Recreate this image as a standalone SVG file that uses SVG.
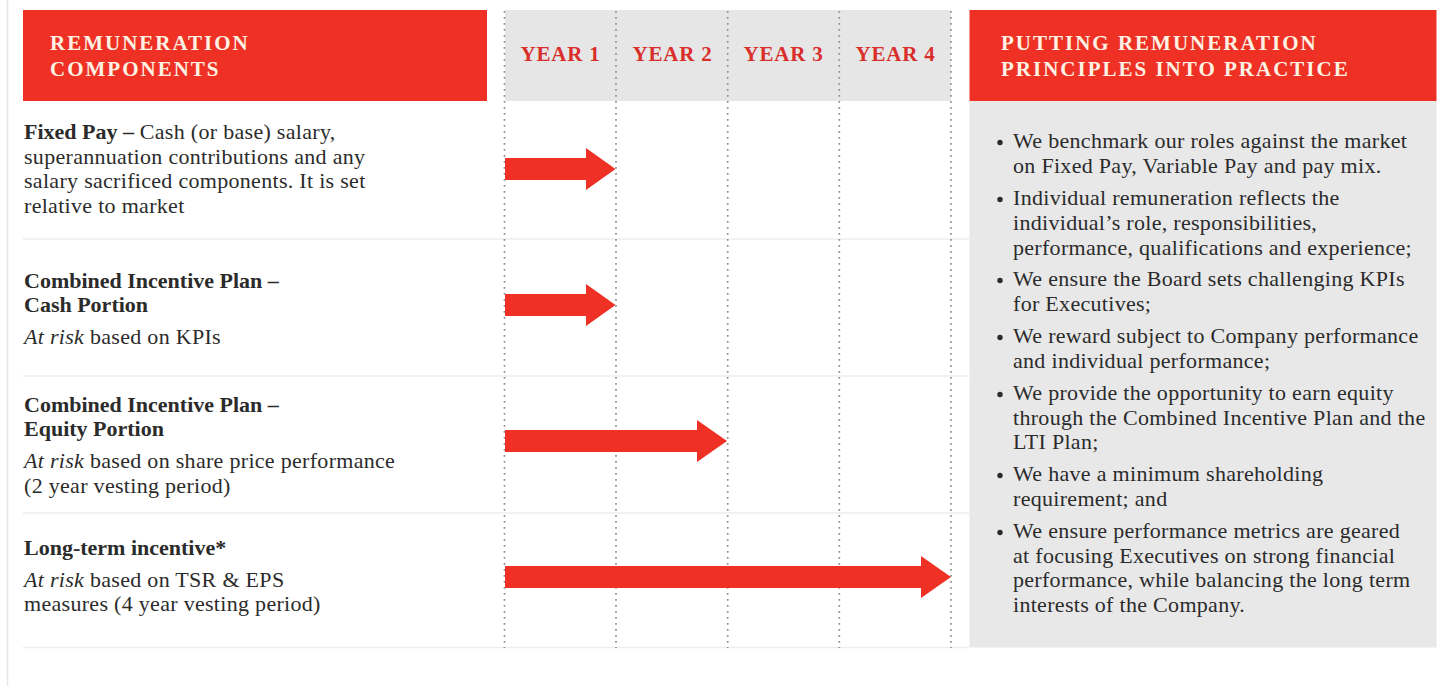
<svg xmlns="http://www.w3.org/2000/svg" width="1442" height="686" viewBox="0 0 1442 686">
  <style>
    .hdr { fill: #ee3124; }
    .hdr-t { font-family: "Liberation Serif", serif; font-weight: bold; font-size: 21px; fill: #fdf2e4; letter-spacing: 2px; }
    .yr-bg { fill: #e6e6e7; }
    .yr-t { font-family: "Liberation Serif", serif; font-weight: bold; font-size: 21px; fill: #d92e2a; letter-spacing: 0.8px; text-anchor: middle; }
    .grid { stroke: #8f8f8f; stroke-width: 1.7; stroke-dasharray: 1.7 4.3; fill: none; }
    .sep { stroke: #eeeeee; stroke-width: 1.5; }
    .body { font-family: "Liberation Serif", serif; font-size: 22px; fill: #2b2b2b; letter-spacing: 0.3px; }
    .b { font-weight: bold; letter-spacing: 0; }
    .i { font-style: italic; }
    .panel { fill: #e8e8e9; }
    .arrow { fill: #ee3124; }
    .dot { fill: #2b2b2b; }
  </style>

  <!-- page edge -->
  <line x1="7.5" y1="0" x2="7.5" y2="686" stroke="#e6e6e6" stroke-width="1.5"/>

  <!-- left column heading -->
  <g id="components-header">
    <rect class="hdr" x="23" y="10" width="464" height="91"/>
    <text class="hdr-t" x="50" y="50">REMUNERATION</text>
    <text class="hdr-t" x="50" y="76">COMPONENTS</text>
  </g>

  <!-- year timeline heading -->
  <g id="years-header">
    <rect class="yr-bg" x="505" y="10" width="446" height="91"/>
    <text class="yr-t" x="560.5" y="61">YEAR 1</text>
    <text class="yr-t" x="672.5" y="61">YEAR 2</text>
    <text class="yr-t" x="783.5" y="61">YEAR 3</text>
    <text class="yr-t" x="895.5" y="61">YEAR 4</text>
  </g>

  <!-- row separators -->
  <g id="rows">
    <line class="sep" x1="23" y1="239" x2="969" y2="239"/>
    <line class="sep" x1="23" y1="376" x2="969" y2="376"/>
    <line class="sep" x1="23" y1="513" x2="969" y2="513"/>
    <line class="sep" x1="23" y1="647.5" x2="969" y2="647.5"/>
  </g>

  <!-- dotted year boundaries -->
  <g id="year-grid">
    <line class="grid" x1="504.5" y1="11" x2="504.5" y2="648"/>
    <line class="grid" x1="616" y1="11" x2="616" y2="648"/>
    <line class="grid" x1="727.7" y1="11" x2="727.7" y2="648"/>
    <line class="grid" x1="839.3" y1="11" x2="839.3" y2="648"/>
    <line class="grid" x1="951" y1="11" x2="951" y2="648"/>
  </g>

  <g id="fixed-pay">
    <text class="body" x="24" y="139"><tspan class="b">Fixed Pay –</tspan> Cash (or base) salary,</text>
    <text class="body" x="24" y="163.5">superannuation contributions and any</text>
    <text class="body" x="24" y="188">salary sacrificed components. It is set</text>
    <text class="body" x="24" y="212.5">relative to market</text>
  </g>

  <g id="cip-cash">
    <text class="body b" x="24" y="288">Combined Incentive Plan –</text>
    <text class="body b" x="24" y="312">Cash Portion</text>
    <text class="body" x="24" y="344"><tspan class="i">At risk</tspan> based on KPIs</text>
  </g>

  <g id="cip-equity">
    <text class="body b" x="24" y="412">Combined Incentive Plan –</text>
    <text class="body b" x="24" y="436">Equity Portion</text>
    <text class="body" x="24" y="467.5"><tspan class="i">At risk</tspan> based on share price performance</text>
    <text class="body" x="24" y="492.5">(2 year vesting period)</text>
  </g>

  <g id="lti">
    <text class="body b" x="24" y="555">Long-term incentive*</text>
    <text class="body" x="24" y="587"><tspan class="i">At risk</tspan> based on TSR &amp; EPS</text>
    <text class="body" x="24" y="611">measures (4 year vesting period)</text>
  </g>

  <!-- vesting arrows -->
  <g id="connectors">
    <polygon class="arrow" points="505,158 586,158 586,148 615.5,169 586,190 586,180 505,180"/>
    <polygon class="arrow" points="505,294 586,294 586,284 615.5,305 586,326 586,316 505,316"/>
    <polygon class="arrow" points="505,430 697,430 697,420 727,441 697,462 697,452 505,452"/>
    <polygon class="arrow" points="505,566 921,566 921,556 951,577 921,598 921,588 505,588"/>
  </g>

  <!-- principles panel -->
  <g id="principles">
    <rect class="hdr" x="969.5" y="10" width="467" height="91"/>
    <rect class="panel" x="969.5" y="101" width="467" height="546.5"/>
    <text class="hdr-t" x="1001" y="50">PUTTING REMUNERATION</text>
    <text class="hdr-t" x="1001" y="76">PRINCIPLES INTO PRACTICE</text>
    <g class="body">
      <circle class="dot" cx="1000" cy="142.5" r="2.7"/>
      <text x="1013" y="148">We benchmark our roles against the market</text>
      <text x="1013" y="172.5">on Fixed Pay, Variable Pay and pay mix.</text>
      <circle class="dot" cx="1000" cy="199.5" r="2.7"/>
      <text x="1013" y="205">Individual remuneration reflects the</text>
      <text x="1013" y="230">individual’s role, responsibilities,</text>
      <text x="1013" y="254.5">performance, qualifications and experience;</text>
      <circle class="dot" cx="1000" cy="280.5" r="2.7"/>
      <text x="1013" y="286">We ensure the Board sets challenging KPIs</text>
      <text x="1013" y="310.5">for Executives;</text>
      <circle class="dot" cx="1000" cy="337.5" r="2.7"/>
      <text x="1013" y="343">We reward subject to Company performance</text>
      <text x="1013" y="367.5">and individual performance;</text>
      <circle class="dot" cx="1000" cy="394.5" r="2.7"/>
      <text x="1013" y="400">We provide the opportunity to earn equity</text>
      <text x="1013" y="424.5">through the Combined Incentive Plan and the</text>
      <text x="1013" y="449">LTI Plan;</text>
      <circle class="dot" cx="1000" cy="475.5" r="2.7"/>
      <text x="1013" y="481">We have a minimum shareholding</text>
      <text x="1013" y="505.5">requirement; and</text>
      <circle class="dot" cx="1000" cy="532.5" r="2.7"/>
      <text x="1013" y="538">We ensure performance metrics are geared</text>
      <text x="1013" y="562.5">at focusing Executives on strong financial</text>
      <text x="1013" y="587">performance, while balancing the long term</text>
      <text x="1013" y="611.5">interests of the Company.</text>
    </g>
  </g>
</svg>
